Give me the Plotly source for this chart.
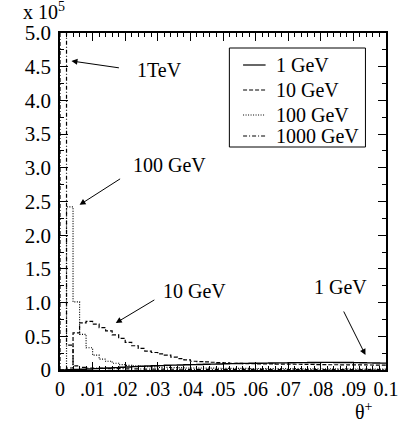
import plotly.graph_objects as go

# bin edges: 50 bins of width 0.002 from 0 to 0.1
bin_width = 0.002
n_bins = 50
edges = [round(i * bin_width, 4) for i in range(n_bins + 1)]

# values in units of 1e5
v_1gev = [0.0, 0.005, 0.01, 0.012, 0.015, 0.02, 0.025, 0.03, 0.035, 0.04,
          0.045, 0.05, 0.055, 0.06, 0.062, 0.065, 0.07, 0.072, 0.075, 0.078,
          0.08, 0.082, 0.085, 0.087, 0.09, 0.092, 0.094, 0.096, 0.098, 0.10,
          0.10, 0.102, 0.104, 0.105, 0.106, 0.108, 0.11, 0.11, 0.112, 0.112,
          0.113, 0.113, 0.112, 0.112, 0.111, 0.11, 0.108, 0.106, 0.104, 0.102]
v_10gev = [0.0, 0.03, 0.55, 0.70, 0.72, 0.68, 0.63, 0.58, 0.52, 0.47,
           0.41, 0.36, 0.32, 0.28, 0.26, 0.24, 0.22, 0.19, 0.17, 0.15,
           0.13, 0.125, 0.12, 0.115, 0.11, 0.105, 0.10, 0.10, 0.095, 0.095,
           0.09, 0.09, 0.09, 0.088, 0.088, 0.085, 0.085, 0.083, 0.082, 0.08,
           0.08, 0.078, 0.078, 0.077, 0.076, 0.075, 0.075, 0.074, 0.073, 0.072]
v_100gev = [0.0, 2.42, 1.01, 0.53, 0.33, 0.22, 0.16, 0.13, 0.10, 0.08,
            0.07, 0.06, 0.055, 0.05, 0.045, 0.04, 0.04, 0.035, 0.035, 0.03,
            0.03, 0.03, 0.028, 0.028, 0.026, 0.025, 0.025, 0.024, 0.023, 0.022,
            0.022, 0.021, 0.02, 0.02, 0.02, 0.019, 0.019, 0.018, 0.018, 0.018,
            0.017, 0.017, 0.016, 0.016, 0.016, 0.015, 0.015, 0.015, 0.014, 0.014]
v_1000gev = [6.2, 0.37, 0.06, 0.04, 0.03, 0.03, 0.025, 0.02, 0.02, 0.02,
             0.018, 0.016, 0.015, 0.014, 0.013, 0.012, 0.012, 0.011, 0.011, 0.01,
             0.01, 0.01, 0.01, 0.009, 0.009, 0.009, 0.009, 0.008, 0.008, 0.008,
             0.008, 0.008, 0.007, 0.007, 0.007, 0.007, 0.007, 0.006, 0.006, 0.006,
             0.006, 0.006, 0.006, 0.005, 0.005, 0.005, 0.005, 0.005, 0.005, 0.005]

series_names = ["1 GeV", "10 GeV", "100 GeV", "1000 GeV"]
series_values = [v_1gev, v_10gev, v_100gev, v_1000gev]
series_dash = ["solid", "4px,2px", "1px,1.5px", "4px,2px,1px,2px"]
series_width = [1.4, 1.2, 1.2, 1.2]

x_tickvals = [0, 0.01, 0.02, 0.03, 0.04, 0.05, 0.06, 0.07, 0.08, 0.09, 0.1]
x_ticktext = ["0", ".01", ".02", ".03", ".04", ".05", ".06", ".07", ".08", ".09", "0.1"]
y_tickvals = [0, 0.5, 1.0, 1.5, 2.0, 2.5, 3.0, 3.5, 4.0, 4.5, 5.0]
y_ticktext = ["0", "0.5", "1.0", "1.5", "2.0", "2.5", "3.0", "3.5", "4.0", "4.5", "5.0"]

FONT = "Liberation Serif"

# plot area in pixels (for placing paper-referenced decorations)
PL, PR, PT, PB = 60, 393, 33, 370
def px(xp):
    return (xp - PL) / (PR - PL)
def py(yp):
    return (PB - yp) / (PB - PT)

fig = go.Figure()
for name, vals, dash, w in zip(series_names, series_values, series_dash, series_width):
    xs = [edges[0]] + edges
    ys = [0.0] + list(vals) + [vals[-1]]
    fig.add_trace(go.Scatter(x=xs, y=ys, mode="lines", name=name, showlegend=False,
                             line=dict(color="black", width=w, dash=dash, shape="hv")))

# arrows: (tip_x, tip_y, tail_x, tail_y)
arrows = [
    (0.00351, 4.585, 0.01853, 4.48),
    (0.0060, 2.45, 0.0189, 2.85),
    (0.0171, 0.697, 0.0294, 1.053),
    (0.0937, 0.223, 0.0868, 0.89),
]
for tx, ty, ax, ay in arrows:
    fig.add_annotation(x=tx, y=ty, ax=ax, ay=ay, xref="x", yref="y",
                       axref="x", ayref="y", text="", showarrow=True,
                       arrowhead=2, arrowsize=1.2, arrowwidth=1, arrowcolor="black")

labels = [
    ("1TeV", 0.0231, 4.45),
    ("100 GeV", 0.0219, 3.04),
    ("10 GeV", 0.0309, 1.17),
    ("1 GeV", 0.0772, 1.23),
]
for t, lx, ly in labels:
    fig.add_annotation(x=lx, y=ly, xref="x", yref="y", text=t, showarrow=False,
                       xanchor="left", yanchor="middle",
                       font=dict(family=FONT, size=20, color="black"))

fig.add_annotation(x=px(20), y=py(11), xref="paper", yref="paper",
                   text="x 10<sup>5</sup>", showarrow=False, xanchor="left",
                   yanchor="middle", font=dict(family=FONT, size=20, color="black"))
fig.add_annotation(x=px(359), y=py(411), xref="paper", yref="paper",
                   text="θ<sup>+</sup>", showarrow=False, xanchor="left",
                   yanchor="middle", font=dict(family=FONT, size=20, color="black"))

# legend box (drawn manually to match the reference row spacing)
fig.add_shape(type="rect", xref="paper", yref="paper",
              x0=px(233), x1=px(372), y0=py(147), y1=py(48),
              line=dict(color="black", width=1), fillcolor="white", layer="above")
legend_rows = [65, 90, 115, 136]
for name, dash, row in zip(series_names, series_dash, legend_rows):
    fig.add_shape(type="line", xref="paper", yref="paper",
                  x0=px(247), x1=px(270), y0=py(row), y1=py(row),
                  line=dict(color="black", width=1.2, dash=dash), layer="above")
    fig.add_annotation(x=px(279), y=py(row), xref="paper", yref="paper",
                       text=name, showarrow=False, xanchor="left", yanchor="middle",
                       font=dict(family=FONT, size=20, color="black"))

axis_common = dict(showline=True, linecolor="black", linewidth=1.5, mirror="allticks",
                   ticks="inside", ticklen=8, tickwidth=1, tickcolor="black",
                   showgrid=False, zeroline=False)

fig.update_xaxes(range=[0, 0.1], tickmode="array", tickvals=x_tickvals, ticktext=x_ticktext,
                 tickfont=dict(family=FONT, size=20, color="black"),
                 minor=dict(dtick=0.002, ticks="inside", ticklen=4, tickcolor="black", showgrid=False),
                 **axis_common)
fig.update_yaxes(range=[0, 5.0], tickmode="array", tickvals=y_tickvals, ticktext=y_ticktext,
                 tickfont=dict(family=FONT, size=21, color="black"), ticklabelstandoff=3,
                 minor=dict(dtick=0.25, ticks="inside", ticklen=4, tickcolor="black", showgrid=False),
                 **axis_common)

fig.update_layout(
    width=411, height=429,
    margin=dict(l=PL, r=411 - PR, t=PT, b=429 - PB),
    paper_bgcolor="white", plot_bgcolor="white",
    showlegend=False,
    font=dict(family=FONT, size=20, color="black"),
)

fig.write_html("out.html")
